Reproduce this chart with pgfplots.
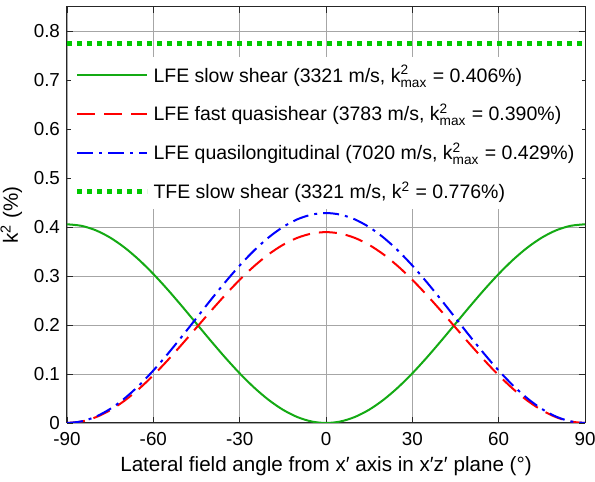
\documentclass[border=0pt]{standalone}
\usepackage{amsmath}
\usepackage{fontspec}
\setmainfont{Liberation Sans}
\usepackage{pgfplots}
\pgfplotsset{compat=1.18}
\definecolor{lfegreen}{RGB}{20,170,20}
\definecolor{tfegreen}{RGB}{0,200,0}

\begin{document}
\begin{tikzpicture}
\begin{axis}[
  name=ax,
  scale only axis,width=259pt,height=208pt,
  xmin=-90,xmax=90,ymin=0,ymax=0.85,
  xtick={-90,-60,-30,0,30,60,90},
  xticklabels={-90,-60,-30,0,30,60,90},
  ytick={0,0.1,0.2,0.3,0.4,0.5,0.6,0.7,0.8},
  yticklabels={0,0.1,0.2,0.3,0.4,0.5,0.6,0.7,0.8},
  tick label style={font=\fontsize{9.4}{11}\selectfont},
  label style={font=\fontsize{10.3}{12}\selectfont},
  xlabel={Lateral field angle from x′ axis in x′z′ plane (°)},
  ylabel={k\textsuperscript{2} (\%)},
  xlabel style={yshift=1.5pt},
  ylabel style={yshift=-1pt},
  grid=major,grid style={black!35,line width=0.4pt},
  tick align=inside,major tick length=3pt,
  axis line style={black!85,line width=0.5pt},
  tick style={black!85,line width=0.4pt},
  xticklabel style={yshift=-1pt},
  legend cell align=left,
  legend style={draw=none,fill=white,at={(rel axis cs:0.006,0.88)},anchor=north west,
    font=\fontsize{9.75}{11}\selectfont,row sep=5.5pt,inner xsep=2pt,inner ysep=2pt},
  legend image code/.code={\draw[#1] (0pt,0pt) -- (35pt,0pt);},
]
\addplot[lfegreen,line width=1pt,smooth] coordinates {
(-90,0.406) (-85,0.40291) (-80,0.39376) (-75,0.37880) (-70,0.35851) (-65,0.33348)
(-60,0.3045) (-55,0.27243) (-50,0.23825) (-45,0.203) (-40,0.16775) (-35,0.13357)
(-30,0.1015) (-25,0.07252) (-20,0.04749) (-15,0.02720) (-10,0.01224) (-5,0.00309)
(0,0) (5,0.00309) (10,0.01224) (15,0.02720) (20,0.04749) (25,0.07252) (30,0.1015)
(35,0.13357) (40,0.16775) (45,0.203) (50,0.23825) (55,0.27243) (60,0.3045)
(65,0.33348) (70,0.35851) (75,0.37880) (80,0.39376) (85,0.40291) (90,0.406)};
\addlegendentry{LFE slow shear (3321 m/s, k$^{\text{2}}_{\text{max}}$ = 0.406\%)}
\addplot[red,line width=1pt,smooth,dash pattern=on 9pt off 4.5pt] coordinates {
(-90,0) (-85,0.00296) (-80,0.01176) (-75,0.02613) (-70,0.04562) (-65,0.06966)
(-60,0.0975) (-55,0.12831) (-50,0.16114) (-45,0.195) (-40,0.22886) (-35,0.26169)
(-30,0.2925) (-25,0.32034) (-20,0.34438) (-15,0.36387) (-10,0.37824) (-5,0.38704)
(0,0.390) (5,0.38704) (10,0.37824) (15,0.36387) (20,0.34438) (25,0.32034) (30,0.2925)
(35,0.26169) (40,0.22886) (45,0.195) (50,0.16114) (55,0.12831) (60,0.0975)
(65,0.06966) (70,0.04562) (75,0.02613) (80,0.01176) (85,0.00296) (90,0)};
\addlegendentry{LFE fast quasishear (3783 m/s, k$^{\text{2}}_{\text{max}}$ = 0.390\%)}
\addplot[blue,line width=1pt,smooth,dash pattern=on 8pt off 3pt on 1.5pt off 3pt] coordinates {
(-90,0) (-85,0.00326) (-80,0.01293) (-75,0.02874) (-70,0.05018) (-65,0.07662)
(-60,0.10725) (-55,0.14114) (-50,0.17725) (-45,0.2145) (-40,0.25175) (-35,0.28786)
(-30,0.32175) (-25,0.35238) (-20,0.37882) (-15,0.40026) (-10,0.41607) (-5,0.42574)
(0,0.429) (5,0.42574) (10,0.41607) (15,0.40026) (20,0.37882) (25,0.35238) (30,0.32175)
(35,0.28786) (40,0.25175) (45,0.2145) (50,0.17725) (55,0.14114) (60,0.10725)
(65,0.07662) (70,0.05018) (75,0.02874) (80,0.01293) (85,0.00326) (90,0)};
\addlegendentry{LFE quasilongitudinal (7020 m/s, k$^{\text{2}}_{\text{max}}$ = 0.429\%)}
\addplot[tfegreen,line width=2.5pt,dash pattern=on 2.5pt off 2.5pt] coordinates {(-90,0.776) (90,0.776)};
\addlegendentry{TFE slow shear (3321 m/s, k$^{\text{2}}$ = 0.776\%)}
\end{axis}
\pgfresetboundingbox
\path ([xshift=-33.5pt,yshift=-29.5pt]ax.south west) rectangle ([xshift=5pt,yshift=3.5pt]ax.north east);
\end{tikzpicture}
\end{document}
